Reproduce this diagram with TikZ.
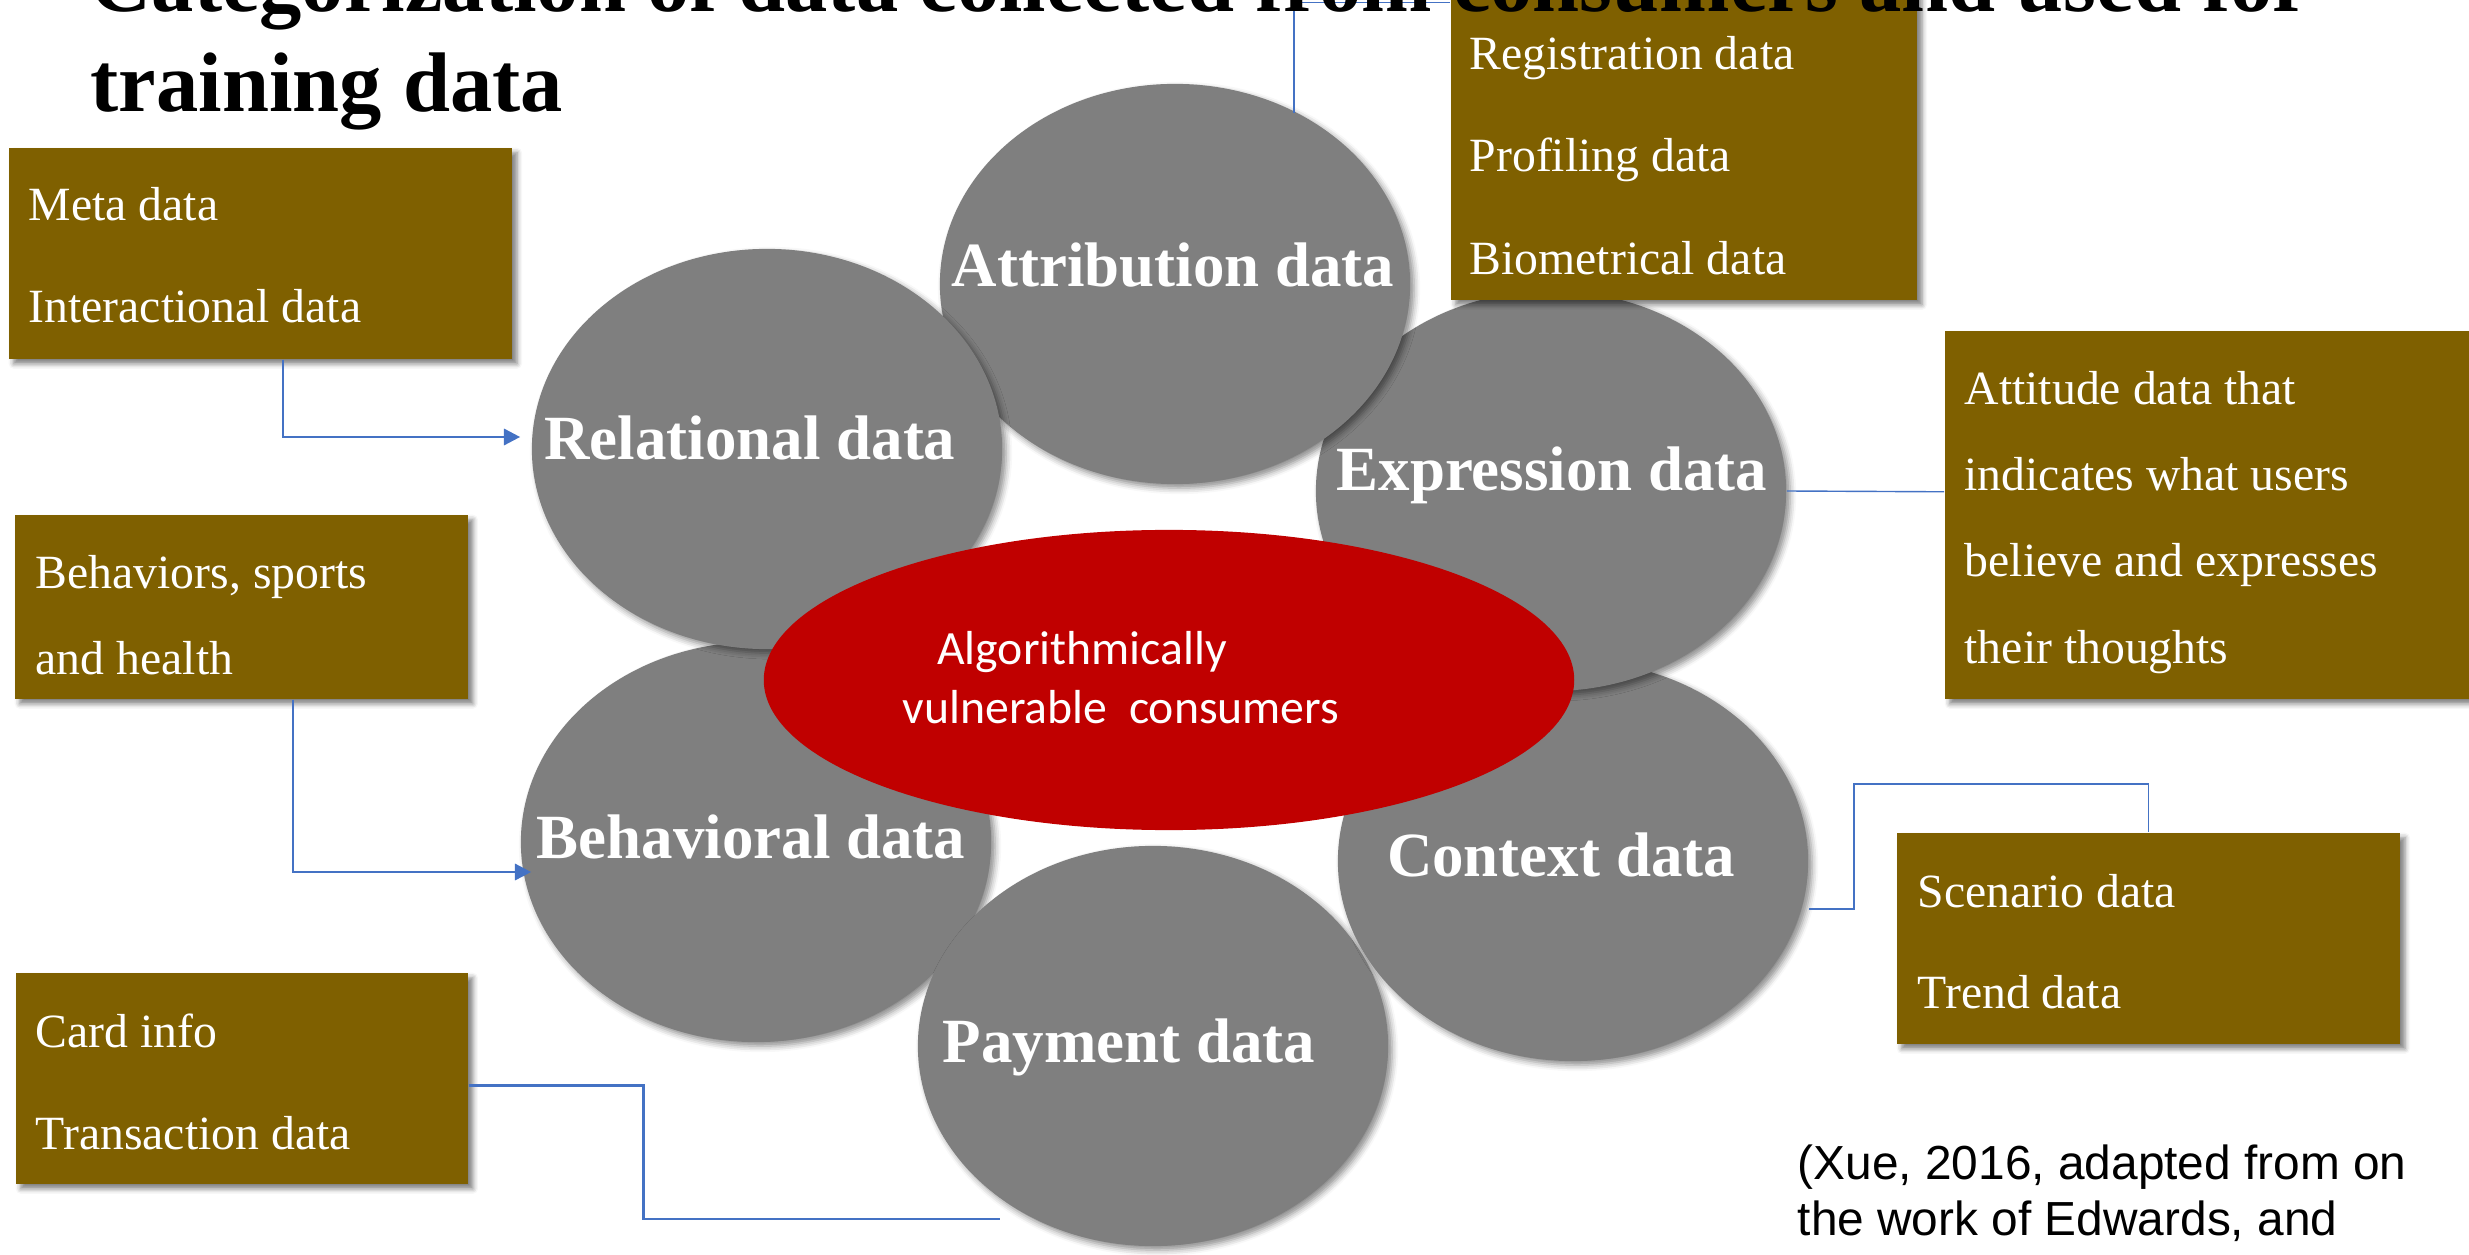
\documentclass[tikz,border=0pt]{standalone}
\usepackage{fontspec}
\setmainfont{Liberation Serif}
\newfontfamily\calfont{Carlito}
\newfontfamily\arfont{Liberation Sans}
\usetikzlibrary{shapes.geometric,arrows.meta,shadows.blur}
\definecolor{bubblegray}{HTML}{7F7F7F}
\definecolor{corered}{HTML}{C00000}
\definecolor{boxbrown}{HTML}{7F6000}
\definecolor{linkblue}{HTML}{4472C4}

\begin{document}
\begin{tikzpicture}[x=0.01cm,y=-0.01cm,
  bubble/.style={ellipse, fill=bubblegray, minimum width=4.7cm, minimum height=4.0cm, inner sep=0pt,
    blur shadow={shadow xshift=0.04cm, shadow yshift=-0.04cm, shadow blur radius=0.06cm, shadow opacity=45}},
  core/.style={ellipse, fill=corered, minimum width=8.1cm, minimum height=3.0cm, inner sep=0pt},
  infobox/.style={rectangle, fill=boxbrown, inner sep=0pt, anchor=north west,
    blur shadow={shadow xshift=0.05cm, shadow yshift=-0.05cm, shadow blur radius=0.05cm, shadow opacity=50}},
  bubbletext/.style={text=white, font=\fontsize{17.9}{21}\selectfont\bfseries, anchor=base, inner sep=0pt},
  boxtext/.style={text=white, font=\fontsize{13.57}{16}\selectfont, anchor=base west, inner sep=0pt},
  coretext/.style={text=white, font=\calfont\fontsize{13.57}{16}\selectfont, anchor=base, inner sep=0pt},
  citetext/.style={text=black, font=\arfont\fontsize{13.6}{16}\selectfont, anchor=base west, inner sep=0pt},
  titletext/.style={text=black, font=\fontsize{24.04}{28}\selectfont\bfseries, anchor=base west, inner sep=0pt},
  thicklink/.style={draw=linkblue, line width=0.77pt},
  thinlink/.style={draw=linkblue, line width=0.4pt},
  linkarrow/.style={-{Triangle[length=4.6pt,width=4.6pt]}}
]
\useasboundingbox (0,0) rectangle (2469,1255);
\clip (0,0) rectangle (2469,1255);

% the six data categories
\node[bubble] (behavioral) at (756,842) {};
\node[bubble] (payment) at (1153,1046) {};
\node[bubble] (context) at (1573,861) {};
\node[bubble] (expression) at (1551,491) {};
\node[bubble] (attribution) at (1175,284) {};
\node[bubble] (relational) at (767,449) {};

% centre
\node[core] (consumers) at (1169,680) {};

% detail boxes
\node[infobox, minimum width=5.03cm, minimum height=2.11cm] (meta) at (8,147) {};
\node[infobox, minimum width=4.66cm, minimum height=3.13cm] (reg) at (1450,-14) {};
\node[infobox, minimum width=5.40cm, minimum height=3.68cm] (attitude) at (1944,330) {};
\node[infobox, minimum width=4.53cm, minimum height=1.84cm] (behaviors) at (14,514) {};
\node[infobox, minimum width=5.03cm, minimum height=2.11cm] (scenario) at (1896,832) {};
\node[infobox, minimum width=4.52cm, minimum height=2.11cm] (card) at (15,972) {};

% connectors
\coordinate (attrtop) at (1294,113);
\coordinate (payend) at (1000,1219);
\coordinate (ctxbend) at (1854,784);
\draw[thinlink] ([yshift=1.41cm]reg.west) -| (attrtop);
\draw[thicklink, linkarrow] ([xshift=0.225cm]meta.south) |- ([xshift=-0.11cm,yshift=0.12cm]relational.west);
\draw[thicklink, linkarrow] ([xshift=0.515cm]behaviors.south) |- ([xshift=0.11cm,yshift=-0.30cm]behavioral.west);
\draw[thicklink] ([yshift=-0.075cm]card.east) -- ++(175,0) |- (payend);
\draw[thinlink] (expression.east) -- ([yshift=0.23cm]attitude.west);
\draw[thinlink] ([yshift=-0.48cm]context.east) -| (ctxbend) -| (scenario.north);

% category labels
\node[bubbletext] (attrlabel) at (1173,287) {Attribution data};
\node[bubbletext] (rellabel) at (750,460) {Relational data};
\node[bubbletext] (exprlabel) at (1552,491) {Expression data};
\node[bubbletext] (behlabel) at (751,858) {Behavioral data};
\node[bubbletext] (ctxlabel) at (1561,876) {Context data};
\node[bubbletext] (paylabel) at (1129,1062) {Payment data};

\node[coretext] (core1) at (1082,664) {Algorithmically};
\node[coretext] (core2) at (1121,723) {vulnerable\ \ consumers};

% box contents
\node[boxtext] (m1) at (28,221) {Meta data};
\node[boxtext] (m2) at (28,323) {Interactional data};
\node[boxtext] (r1) at (1469,70) {Registration data};
\node[boxtext] (r2) at (1469,172) {Profiling data};
\node[boxtext] (r3) at (1469,275) {Biometrical data};
\node[boxtext] (a1) at (1964,405) {Attitude data that};
\node[boxtext] (a2) at (1964,491) {indicates what users};
\node[boxtext] (a3) at (1964,577) {believe and expresses};
\node[boxtext] (a4) at (1964,663) {their thoughts};
\node[boxtext] (b1) at (35,589) {Behaviors, sports};
\node[boxtext] (b2) at (35,674) {and health};
\node[boxtext] (s1) at (1917,907) {Scenario data};
\node[boxtext] (s2) at (1917,1008) {Trend data};
\node[boxtext] (c1) at (35,1047) {Card info};
\node[boxtext] (c2) at (35,1149) {Transaction data};

% source
\node[citetext] (cite1) at (1797,1179) {(Xue, 2016, adapted from on};
\node[citetext] (cite2) at (1797,1235) {the work of Edwards, and};

% heading
\node[titletext] (title1) at (90,12) {Categorization of data collected from consumers and used for};
\node[titletext] (title2) at (90,112) {training data};
\end{tikzpicture}
\end{document}
